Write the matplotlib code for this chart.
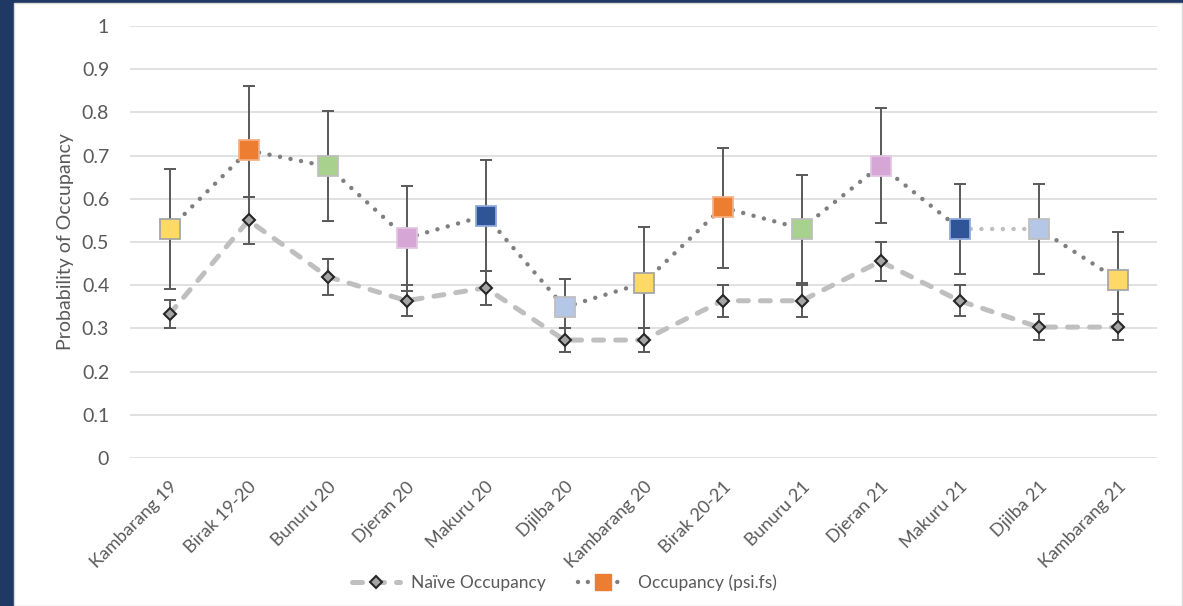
import matplotlib.pyplot as plt
import matplotlib.patches as patches
from matplotlib.lines import Line2D
import numpy as np

plt.rcParams['font.family'] = ['Lato', 'DejaVu Sans']

categories = ["Kambarang 19", "Birak 19-20", "Bunuru 20", "Djeran 20", "Makuru 20",
              "Djilba 20", "Kambarang 20", "Birak 20-21", "Bunuru 21", "Djeran 21",
              "Makuru 21", "Djilba 21", "Kambarang 21"]

naive = [0.333, 0.55, 0.42, 0.364, 0.394, 0.273, 0.273, 0.364, 0.364, 0.455, 0.364, 0.303, 0.303]
naive_lo = [0.300, 0.495, 0.377, 0.328, 0.355, 0.246, 0.246, 0.327, 0.327, 0.409, 0.328, 0.273, 0.273]
naive_hi = [0.366, 0.605, 0.461, 0.400, 0.433, 0.300, 0.300, 0.400, 0.400, 0.499, 0.400, 0.333, 0.333]

psi = [0.530, 0.712, 0.675, 0.509, 0.561, 0.349, 0.405, 0.580, 0.531, 0.677, 0.531, 0.531, 0.413]
psi_lo = [0.392, 0.605, 0.548, 0.387, 0.433, 0.300, 0.300, 0.440, 0.406, 0.543, 0.427, 0.427, 0.333]
psi_hi = [0.669, 0.861, 0.803, 0.630, 0.690, 0.415, 0.535, 0.718, 0.654, 0.810, 0.635, 0.635, 0.524]

yticks = [0, 0.1, 0.2, 0.3, 0.4, 0.5, 0.6, 0.7, 0.8, 0.9, 1]
ytick_labels = ["0", "0.1", "0.2", "0.3", "0.4", "0.5", "0.6", "0.7", "0.8", "0.9", "1"]

# season colours (fill, edge)
season_fill = {"Kambarang": "#FFD966", "Birak": "#ED7D31", "Bunuru": "#A9D18E",
               "Djeran": "#D5A6D6", "Makuru": "#2F5597", "Djilba": "#B4C7E7"}
season_edge = {"Kambarang": "#A6A6A6", "Birak": "#F4B183", "Bunuru": "#BFBFBF",
               "Djeran": "#E2C6E2", "Makuru": "#8FAADC", "Djilba": "#BFBFBF"}
# colour of each dotted segment between consecutive psi points
seg_colors = ["#7F7F7F"] * 10 + ["#BFBFBF"] + ["#7F7F7F"]

fig = plt.figure(figsize=(11.83, 6.06), dpi=100)
fig.patch.set_facecolor("#1F3864")
fig.add_artist(patches.Rectangle((14 / 1183, 0), 1168 / 1183, 603 / 606,
                                 transform=fig.transFigure, facecolor="white",
                                 edgecolor="#D9D9D9", lw=1, zorder=-10))

ax = fig.add_axes([130 / 1183, 148 / 606, 1027 / 1183, 432 / 606])
ax.patch.set_alpha(0)
x = np.arange(len(categories))

naive = np.array(naive)
psi = np.array(psi)

# error bars
ax.errorbar(x, naive, yerr=[naive - np.array(naive_lo), np.array(naive_hi) - naive],
            fmt="none", ecolor="#595959", elinewidth=1.4, capsize=4, capthick=1.4, zorder=2)
ax.errorbar(x, psi, yerr=[psi - np.array(psi_lo), np.array(psi_hi) - psi],
            fmt="none", ecolor="#595959", elinewidth=1.4, capsize=4, capthick=1.4, zorder=2)

# naive line
ax.plot(x, naive, color="#BFBFBF", lw=3.6, linestyle=(0, (2, 2.4)),
        dash_capstyle="round", zorder=3)
ax.plot(x, naive, "D", ms=6.5, mfc="#A5A5A5", mec="#262626", mew=1.5, ls="none", zorder=4)

# psi dotted line, segment by segment
for i in range(len(x) - 1):
    ax.plot(x[i:i + 2], psi[i:i + 2], color=seg_colors[i], lw=3.2, linestyle=(0, (0.01, 2.4)),
            dash_capstyle="round", zorder=3)

for i, cat in enumerate(categories):
    season = cat.split()[0]
    ax.plot(x[i], psi[i], "s", ms=14, mfc=season_fill[season], mec=season_edge[season],
            mew=1.3, zorder=5)

ax.set_xlim(-0.5, len(categories) - 0.5)
ax.set_ylim(0, 1)
ax.set_yticks(yticks)
ax.set_yticklabels(ytick_labels)
ax.set_xticks(x)
ax.set_xticklabels(categories, rotation=45, ha="right", rotation_mode="anchor")
ax.tick_params(axis="y", length=0, pad=15, labelsize=14, labelcolor="#595959")
ax.tick_params(axis="x", length=0, pad=15, labelsize=13, labelcolor="#595959")
for s in ax.spines.values():
    s.set_visible(False)
ax.grid(axis="y", color="#D9D9D9", lw=1.1)
ax.set_axisbelow(True)

ax.set_ylabel("Probability of Occupancy", fontsize=14, color="#595959")
ax.yaxis.set_label_coords(-0.055, 0.502)

handles = [
    Line2D([], [], color="#BFBFBF", lw=3.6, linestyle=(0, (2, 2.4)), dash_capstyle="round",
           marker="D", ms=6.5, mfc="#A5A5A5", mec="#262626", mew=1.5),
    Line2D([], [], color="#7F7F7F", lw=3.2, linestyle=(0, (0.01, 2.2)), dash_capstyle="round",
           marker="s", ms=12, mfc="#ED7D31", mec="#ED7D31"),
]
fig.legend(handles, ["Naïve Occupancy", "Occupancy (psi.fs)"], loc="center",
           bbox_to_anchor=(564 / 1183, 23 / 606), ncol=2, frameon=False, fontsize=12.5,
           labelcolor="#595959", handlelength=2.8, handletextpad=0.6, columnspacing=1.9)

fig.savefig("out.png", dpi=100, facecolor=fig.get_facecolor())
